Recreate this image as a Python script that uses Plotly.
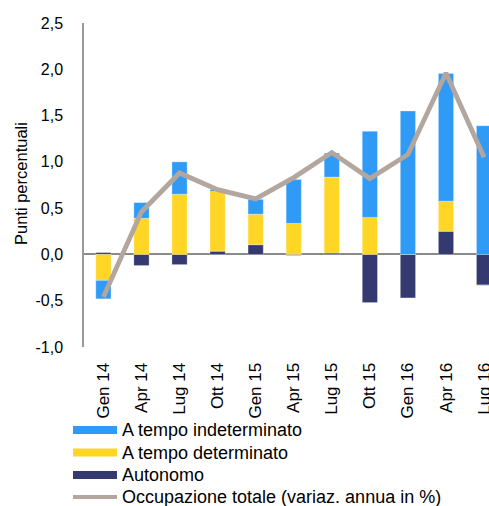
import plotly.graph_objects as go

categories = ["Gen 14", "Apr 14", "Lug 14", "Ott 14", "Gen 15", "Apr 15",
              "Lug 15", "Ott 15", "Gen 16", "Apr 16", "Lug 16"]
autonomo = [0.02, -0.12, -0.11, 0.035, 0.105, -0.01, 0.015, -0.52, -0.47, 0.25, -0.33]
determinato = [-0.28, 0.39, 0.65, 0.645, 0.33, 0.335, 0.82, 0.40, 0.0, 0.325, -0.01]
indeterminato = [-0.20, 0.17, 0.35, 0.02, 0.16, 0.475, 0.26, 0.93, 1.55, 1.38, 1.39]
totale = [-0.46, 0.46, 0.88, 0.70, 0.60, 0.83, 1.10, 0.82, 1.08, 1.96, 1.05]

y_tickvals = [-1.0, -0.5, 0.0, 0.5, 1.0, 1.5, 2.0, 2.5]
y_ticktext = ["-1,0", "-0,5", "0,0", "0,5", "1,0", "1,5", "2,0", "2,5"]

names = ["A tempo indeterminato", "A tempo determinato", "Autonomo",
         "Occupazione totale (variaz. annua in %)"]
BLUE = "#2F9BF7"
YELLOW = "#FFD626"
NAVY = "#343A70"
GREY = "#B2A69E"
FONT = "Liberation Sans, Arial, sans-serif"

fig = go.Figure()
for vals, name, col in [(autonomo, names[2], NAVY),
                        (determinato, names[1], YELLOW),
                        (indeterminato, names[0], BLUE)]:
    fig.add_trace(go.Bar(x=categories, y=vals, name=name, width=0.4,
                         marker=dict(color=col, line=dict(color="rgba(255,255,255,0.5)", width=0.6)),
                         showlegend=False))
fig.add_trace(go.Scatter(x=categories, y=totale, name=names[3], mode="lines",
                         line=dict(color=GREY, width=4.8), showlegend=False))

L, R, T, B = 84, 0, 23, 159
W, H = 489, 506
pw, ph = W - L - R, H - T - B

def px(x):
    return (x - L) / pw

def py(y):
    return (H - B - y) / ph

shapes = []
annotations = []
rows = [430, 452.5, 475, 497]
swatch_cols = [BLUE, YELLOW, NAVY]
for i, (name, yc) in enumerate(zip(names, rows)):
    if i < 3:
        shapes.append(dict(type="rect", xref="paper", yref="paper",
                           x0=px(73), x1=px(117), y0=py(yc + 4), y1=py(yc - 4),
                           fillcolor=swatch_cols[i], line=dict(width=0)))
    else:
        shapes.append(dict(type="line", xref="paper", yref="paper",
                           x0=px(73), x1=px(117), y0=py(yc), y1=py(yc),
                           line=dict(color=GREY, width=4)))
    annotations.append(dict(text=name, xref="paper", yref="paper",
                            x=px(121), y=py(yc), xanchor="left", yanchor="middle",
                            borderpad=0,
                            showarrow=False, font=dict(family=FONT, size=18, color="#000")))

annotations.append(dict(text="Punti percentuali", xref="paper", yref="paper",
                        x=px(21), y=py(184), textangle=-90, xanchor="center", yanchor="middle",
                        showarrow=False, font=dict(family=FONT, size=16.5, color="#000")))

fig.update_layout(
    width=W, height=H,
    margin=dict(l=L, r=R, t=T, b=B, pad=0),
    barmode="relative",
    plot_bgcolor="white", paper_bgcolor="white",
    font=dict(family=FONT, size=17, color="#000"),
    shapes=shapes, annotations=annotations,
    showlegend=False,
    xaxis=dict(type="category", range=[-0.51, 10.13], showgrid=False, showline=False,
               zeroline=False, tickangle=-90, ticks="outside", ticklen=8,
               tickcolor="rgba(0,0,0,0)", tickfont=dict(size=17), automargin=False),
    yaxis=dict(range=[-1, 2.5], tickmode="array", tickvals=y_tickvals, ticktext=y_ticktext,
               showgrid=False,
               showline=True, linecolor="#999999", linewidth=1.5,
               zeroline=True, zerolinecolor="#8a8a8a", zerolinewidth=2,
               ticks="outside", ticklen=16, tickcolor="rgba(0,0,0,0)",
               tickfont=dict(size=16), automargin=False),
)

fig.write_html("out.html", config={"displayModeBar": False},
               post_script="document.body.style.margin='0px';document.body.style.overflow='hidden';")
